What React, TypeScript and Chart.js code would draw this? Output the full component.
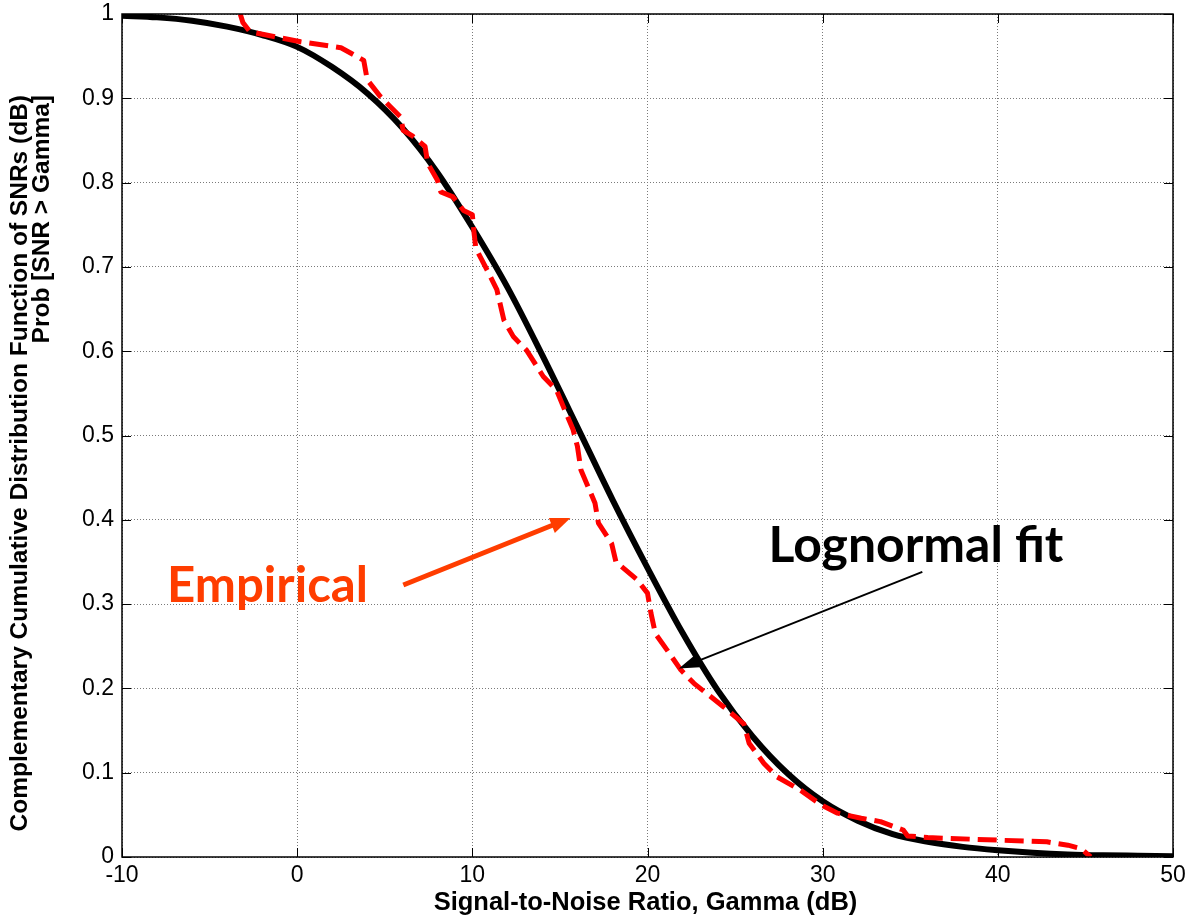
import React, { useEffect, useRef } from 'react';
import { Chart, registerables } from 'chart.js';

Chart.register(...registerables);

// ---------- data ----------
const xTickValues = [-10, 0, 10, 20, 30, 40, 50];
const xTickLabels = ['-10', '0', '10', '20', '30', '40', '50'];
const yTickValues = [0, 0.1, 0.2, 0.3, 0.4, 0.5, 0.6, 0.7, 0.8, 0.9, 1];
const yTickLabels = ['0', '0.1', '0.2', '0.3', '0.4', '0.5', '0.6', '0.7', '0.8', '0.9', '1'];

// Lognormal fit (black solid)
const fitSnr = [-10, -8, -6, -4, -2, 0, 2, 4, 6, 8, 10, 12, 14, 16, 18, 20, 22, 24, 26, 28, 30, 32, 34, 36, 38, 40, 42, 44, 46, 48, 50];
const fitProb = [0.998, 0.996, 0.992, 0.985, 0.975, 0.961, 0.937, 0.906, 0.865, 0.812, 0.747, 0.676, 0.595, 0.51, 0.424, 0.343, 0.266, 0.198, 0.143, 0.099, 0.066, 0.043, 0.027, 0.018, 0.012, 0.008, 0.005, 0.003, 0.002, 0.0015, 0.001];

// Empirical (red dashed)
const empSnr = [-3.25, -3.1, -2.7, 0.2, 2.5, 3.8, 4.0, 4.75, 5.9, 6.05, 6.6, 7.3, 7.45, 8.0, 8.2, 8.9, 9.5, 10.0, 10.1, 10.2, 10.85, 11.4, 11.8, 12.35, 13.1, 14.05, 14.8, 15.2, 15.75, 16.0, 16.2, 17.0, 17.2, 17.95, 18.2, 19.4, 20.0, 20.2, 20.45, 21.1, 21.9, 22.65, 24.35, 25.5, 25.8, 26.65, 27.4, 28.75, 29.9, 30.85, 32.2, 33.3, 34.6, 34.85, 36.0, 40.0, 42.8, 44.0, 44.75, 45.3];
const empProb = [1.0, 0.99, 0.979, 0.967, 0.96, 0.945, 0.922, 0.902, 0.878, 0.862, 0.855, 0.843, 0.823, 0.803, 0.789, 0.783, 0.767, 0.762, 0.74, 0.722, 0.696, 0.673, 0.637, 0.617, 0.601, 0.57, 0.554, 0.534, 0.507, 0.487, 0.459, 0.42, 0.396, 0.372, 0.35, 0.329, 0.313, 0.289, 0.265, 0.246, 0.222, 0.206, 0.178, 0.158, 0.135, 0.111, 0.095, 0.079, 0.062, 0.052, 0.046, 0.042, 0.032, 0.025, 0.023, 0.02, 0.018, 0.014, 0.01, 0.0];

const xTitle = 'Signal-to-Noise Ratio, Gamma (dB)';
const yTitleLines = ['Complementary Cumulative Distribution Function of SNRs (dB)', 'Prob [SNR > Gamma]'];
const empiricalLabel = 'Empirical';
const fitLabel = 'Lognormal fit';

// annotation anchors in data coordinates
const empiricalTextAt = { x: -7.43, y: 0.3025 };
const empiricalArrowFrom = { x: 6.06, y: 0.3227 };
const empiricalArrowTo = { x: 15.6, y: 0.402 };
const fitTextAt = { x: 26.91, y: 0.35 };
const fitArrowFrom = { x: 35.69, y: 0.3383 };
const fitArrowTo = { x: 21.79, y: 0.2236 };

const SANS = "'Liberation Sans', Arial, Helvetica, sans-serif";
const CALIBRI = "Lato, 'Open Sans', sans-serif";
const ORANGE = '#FF3D00';

function fitFontSize(ctx: CanvasRenderingContext2D, text: string, weight: string, family: string, target: number) {
  ctx.font = `${weight} 100px ${family}`;
  const w = ctx.measureText(text).width;
  return (100 * target) / w;
}

function drawArrow(ctx: CanvasRenderingContext2D, x1: number, y1: number, x2: number, y2: number, width: number, headLen: number, headW: number, color: string) {
  const ang = Math.atan2(y2 - y1, x2 - x1);
  const c = Math.cos(ang), s = Math.sin(ang);
  const bx = x2 - headLen * c, by = y2 - headLen * s;
  ctx.save();
  ctx.setLineDash([]);
  ctx.strokeStyle = color;
  ctx.fillStyle = color;
  ctx.lineWidth = width;
  ctx.lineCap = 'butt';
  ctx.beginPath();
  ctx.moveTo(x1, y1);
  ctx.lineTo(bx + c * 2, by + s * 2);
  ctx.stroke();
  ctx.beginPath();
  ctx.moveTo(x2, y2);
  ctx.lineTo(bx - (headW / 2) * s, by + (headW / 2) * c);
  ctx.lineTo(bx + (headW / 2) * s, by - (headW / 2) * c);
  ctx.closePath();
  ctx.fill();
  ctx.restore();
}

const decorPlugin = {
  id: 'decor',
  afterDatasetsDraw(chart: any) {
    const { ctx, chartArea: a, scales } = chart;
    const xs = scales.x, ys = scales.y;
    const px = (v: number) => xs.getPixelForValue(v);
    const py = (v: number) => ys.getPixelForValue(v);
    ctx.save();
    ctx.setLineDash([]);
    // axes box
    ctx.strokeStyle = '#000';
    ctx.lineWidth = 1.5;
    ctx.strokeRect(a.left, a.top, a.right - a.left, a.bottom - a.top);
    // inward tick marks
    ctx.lineWidth = 1;
    const seg = (x1: number, y1: number, x2: number, y2: number) => {
      ctx.beginPath();
      ctx.moveTo(x1, y1);
      ctx.lineTo(x2, y2);
      ctx.stroke();
    };
    for (const t of xTickValues) {
      const x = Math.round(px(t)) + 0.5;
      seg(x, a.bottom, x, a.bottom - 9);
      seg(x, a.top, x, a.top + 9);
    }
    for (const t of yTickValues) {
      const y = Math.round(py(t)) + 0.5;
      seg(a.left, y, a.left + 9, y);
      seg(a.right, y, a.right - 9, y);
    }

    // annotations
    ctx.textAlign = 'left';
    ctx.textBaseline = 'alphabetic';
    let fs = fitFontSize(ctx, empiricalLabel, 'bold', CALIBRI, 201);
    ctx.font = `bold ${fs}px ${CALIBRI}`;
    ctx.fillStyle = ORANGE;
    ctx.fillText(empiricalLabel, px(empiricalTextAt.x), py(empiricalTextAt.y));
    drawArrow(ctx, px(empiricalArrowFrom.x), py(empiricalArrowFrom.y), px(empiricalArrowTo.x), py(empiricalArrowTo.y), 5, 20, 16, ORANGE);

    fs = fitFontSize(ctx, fitLabel, 'bold', CALIBRI, 295);
    ctx.font = `bold ${fs}px ${CALIBRI}`;
    ctx.fillStyle = '#000';
    ctx.fillText(fitLabel, px(fitTextAt.x), py(fitTextAt.y));
    drawArrow(ctx, px(fitArrowFrom.x), py(fitArrowFrom.y), px(fitArrowTo.x), py(fitArrowTo.y), 2, 20, 13, '#000');

    // axis titles
    ctx.fillStyle = '#000';
    ctx.font = `bold 25.5px ${SANS}`;
    ctx.textAlign = 'center';
    ctx.textBaseline = 'alphabetic';
    ctx.fillText(xTitle, (a.left + a.right) / 2 - 2, 910);

    ctx.font = `bold 24.5px ${SANS}`;
    ctx.textAlign = 'right';
    ctx.textBaseline = 'middle';
    const lineX = [20, 42];
    yTitleLines.forEach((txt, i) => {
      ctx.save();
      ctx.translate(lineX[i], 95);
      ctx.rotate(-Math.PI / 2);
      ctx.fillText(txt, 0, 0);
      ctx.restore();
    });
    ctx.restore();
  },
};

export default function App() {
  const ref = useRef<HTMLCanvasElement>(null);
  useEffect(() => {
    const canvas = ref.current;
    if (!canvas) return;
    const chart = new Chart(canvas, {
      type: 'line',
      data: {
        datasets: [
          {
            label: 'Empirical',
            data: empSnr.map((x, i) => ({ x, y: empProb[i] })),
            borderColor: '#FF0000',
            borderWidth: 5,
            borderDash: [19, 8],
            borderCapStyle: 'butt',
            borderJoinStyle: 'round',
            tension: 0,
            pointRadius: 0,
            fill: false,
          },
          {
            label: 'Lognormal fit',
            data: fitSnr.map((x, i) => ({ x, y: fitProb[i] })),
            borderColor: '#000000',
            borderWidth: 6,
            cubicInterpolationMode: 'monotone',
            pointRadius: 0,
            fill: false,
          },
        ],
      },
      options: {
        responsive: false,
        animation: false,
        devicePixelRatio: 1,
        layout: { padding: { top: 14, right: 16, left: 0, bottom: 0 } },
        plugins: { legend: { display: false }, tooltip: { enabled: false }, title: { display: false } },
        scales: {
          x: {
            type: 'linear',
            min: -10,
            max: 50,
            afterBuildTicks: (s: any) => {
              s.ticks = xTickValues.map((v) => ({ value: v }));
            },
            afterFit: (s: any) => {
              s.height = 58;
              s.paddingLeft = 0;
              s.paddingRight = 0;
              s.paddingTop = 0;
              s.paddingBottom = 0;
            },
            grid: { color: '#7a7a7a', lineWidth: 1, drawTicks: false },
            border: { display: false, dash: [1, 2] },
            ticks: {
              autoSkip: false,
              maxRotation: 0,
              padding: 5,
              color: '#000',
              font: { family: SANS, size: 23 },
              callback: (_v: any, i: number) => xTickLabels[i],
            },
          },
          y: {
            type: 'linear',
            min: 0,
            max: 1,
            afterBuildTicks: (s: any) => {
              s.ticks = yTickValues.map((v) => ({ value: v }));
            },
            afterFit: (s: any) => {
              s.width = 122;
              s.paddingLeft = 0;
              s.paddingRight = 0;
              s.paddingTop = 0;
              s.paddingBottom = 0;
            },
            grid: { color: '#7a7a7a', lineWidth: 1, drawTicks: false },
            border: { display: false, dash: [1, 2] },
            ticks: {
              autoSkip: false,
              padding: 8,
              color: '#000',
              font: { family: SANS, size: 23 },
              callback: (_v: any, i: number) => yTickLabels[i],
            },
          },
        },
      } as any,
      plugins: [decorPlugin],
    });
    return () => chart.destroy();
  }, []);
  return (
    <div style={{ position: 'absolute', left: 0, top: 0, width: 1189, height: 915, background: '#fff' }}>
      <canvas ref={ref} width={1189} height={915} style={{ display: 'block', width: 1189, height: 915 }} />
    </div>
  );
}
